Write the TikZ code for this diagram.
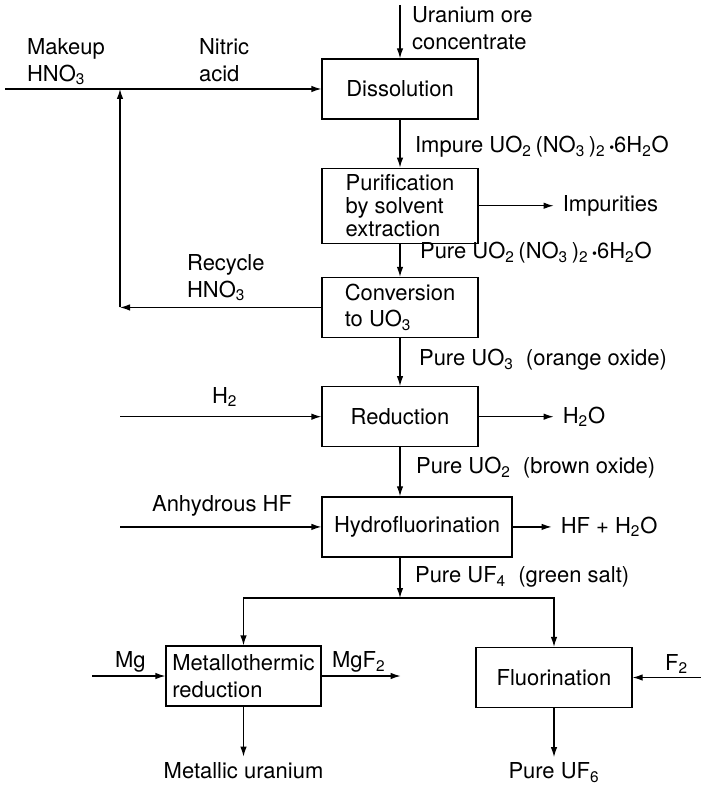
\documentclass[tikz,border=0pt]{standalone}
\usepackage{fontspec}
\setmainfont{TeX Gyre Heros}
\usetikzlibrary{arrows.meta,positioning}

\newcommand{\sub}[1]{\textsubscript{#1}}
\newcommand{\hyd}{\,{\fontsize{8}{8}\selectfont\textbullet}}

\begin{document}
\begin{tikzpicture}[
    every node/.style={font=\fontsize{12.5}{15}\selectfont},
    box/.style={draw=black, line width=0.7pt, align=left, inner sep=1pt, minimum width=3.12cm, minimum height=1.2cm},
    lbl/.style={inner sep=1pt, align=left, anchor=west},
    prod/.style={inner sep=5pt},
    arrow/.style={-{Latex[length=2mm, width=1.3mm]}, line width=0.7pt, black}
]
\useasboundingbox (0,0) rectangle (14,-15.74);

\node[box] (dissolution) at (8,-1.78) {Dissolution};
\node[box, minimum height=1.5cm, font=\fontsize{12.5}{13.3}\selectfont, below=0.96cm of dissolution] (purification) {Purification\\by solvent\\extraction};
\node[box, below=0.66cm of purification] (conversion) {Conversion\\to UO\sub{3}};
\node[box, below=0.96cm of conversion] (reduction) {Reduction};
\node[box, minimum width=3.8cm, below=0.98cm of reduction.south west, anchor=north west] (hydro) {Hydrofluorination};
\node[box, minimum width=3.1cm] (metallo) at (4.87,-13.52) {Metallothermic\\reduction};
\node[box] (fluor) at (11.08,-13.55) {Fluorination};

% feeds
\coordinate (ore) at (8,-0.1);
\coordinate (makeup) at (0.1,-1.78);
\coordinate (join) at (2.4,-1.78);
\coordinate (recyc) at (conversion.west -| join);
\coordinate (hydrogen) at (reduction.west -| join);
\coordinate (hf) at (hydro.west -| join);
\coordinate (split) at (8,-11.96);
\coordinate (mg) at ([xshift=-1.46cm]metallo.west);
\coordinate (mgf) at ([xshift=1.58cm]metallo.east);
\coordinate (fluorine) at ([xshift=1.36cm]fluor.east);

% products
\node[prod, right=1.5cm of purification] (impurities) {Impurities};
\node[prod, right=1.5cm of reduction] (water) {H\sub{2}O};
\node[prod, right=0.78cm of hydro] (hfwater) {HF + H\sub{2}O};
\node[prod, inner sep=3pt, below=1.0cm of metallo] (uranium) {Metallic uranium};
\node[prod, inner sep=3pt, below=0.98cm of fluor] (uf6) {Pure UF\sub{6}};

% labels
\node[lbl] at (8.2,-0.56) {Uranium ore\\concentrate};
\node[lbl] at (0.5,-1.24) {Makeup\\HNO\sub{3}};
\node[lbl] at (3.94,-1.2) {Nitric\\acid};
\node[lbl] at (8.26,-2.94) {Impure UO\sub{2}\,(NO\sub{3}\,)\sub{2}\hyd6H\sub{2}O};
\node[lbl] at (8.36,-5.06) {Pure UO\sub{2}\,(NO\sub{3}\,)\sub{2}\hyd6H\sub{2}O};
\node[lbl] at (3.7,-5.56) {Recycle\\HNO\sub{3}};
\node[lbl] at (8.34,-7.2) {Pure UO\sub{3}\ \ (orange oxide)};
\node[lbl] at (4.2,-7.94) {H\sub{2}};
\node[lbl] at (8.28,-9.36) {Pure UO\sub{2}\ \ (brown oxide)};
\node[lbl] at (3.0,-10.12) {Anhydrous HF};
\node[lbl] at (8.26,-11.54) {Pure UF\sub{4}\ \ (green salt)};
\node[lbl] at (2.26,-13.24) {Mg};
\node[lbl] at (6.6,-13.24) {MgF\sub{2}};
\node[lbl] at (13.26,-13.28) {F\sub{2}};

\draw[arrow] (ore) -- (dissolution);
\draw[arrow] (makeup) -- (dissolution);
\draw[arrow] (dissolution) -- (purification);
\draw[arrow] (purification) -- (impurities);
\draw[arrow] (purification) -- (conversion);
\draw[arrow] (conversion) -- (recyc);
\draw[arrow] (recyc) -- (join);
\draw[arrow] (conversion) -- (reduction);
\draw[arrow] (hydrogen) -- (reduction);
\draw[arrow] (reduction) -- (water);
\draw[arrow] (reduction) -- (reduction |- hydro.north);
\draw[arrow] (hf) -- (hydro);
\draw[arrow] (hydro) -- (hfwater);
\draw[arrow] (hydro.south -| reduction) -- (split);
\draw[arrow] (split) -| (metallo);
\draw[arrow] (split) -| (fluor);
\draw[arrow] (mg) -- (metallo);
\draw[arrow] (metallo) -- (mgf);
\draw[arrow] (metallo) -- (uranium);
\draw[arrow] (fluorine) -- (fluor);
\draw[arrow] (fluor) -- (uf6);
\end{tikzpicture}
\end{document}
